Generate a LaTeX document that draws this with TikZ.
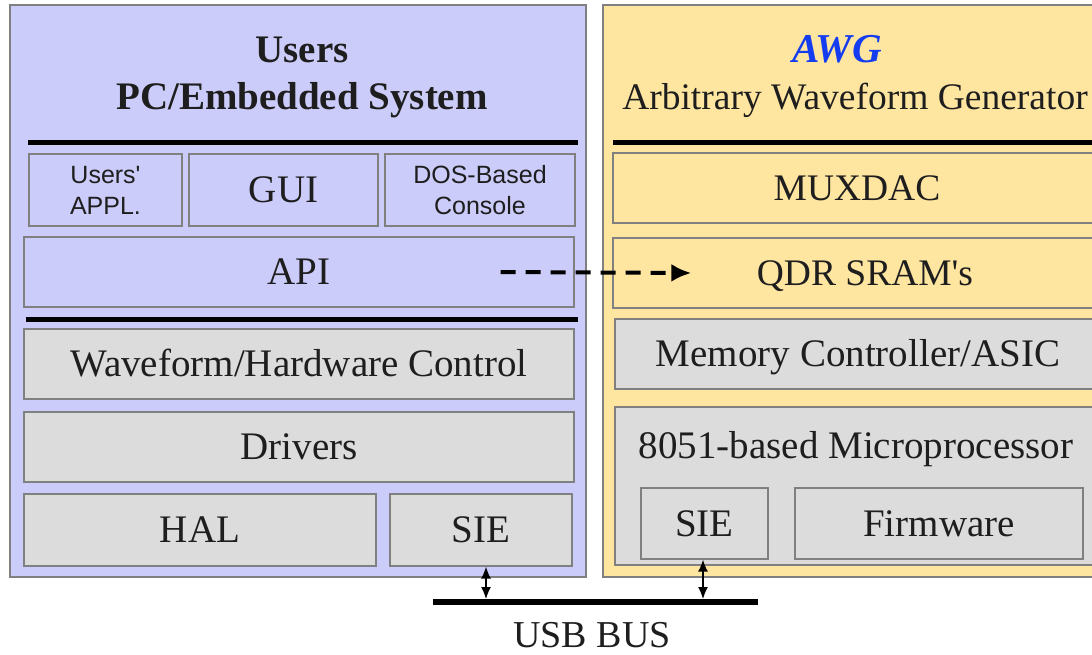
\documentclass[tikz,border=0pt]{standalone}
\usepackage{fontspec}
\setmainfont{Liberation Serif}
\setsansfont{Liberation Sans}
\usetikzlibrary{arrows.meta}
\definecolor{lav}{RGB}{204,204,250}
\definecolor{sand}{RGB}{254,229,160}
\definecolor{boxgray}{RGB}{220,220,220}
\definecolor{edge}{RGB}{128,128,128}
\definecolor{ink}{RGB}{30,30,30}
\definecolor{awgblue}{RGB}{20,60,240}
\begin{document}
\begin{tikzpicture}[x=1pt,y=-1pt,
  panel/.style={draw=edge, line width=1.6pt, inner sep=0pt, anchor=center},
  box/.style={draw=edge, line width=1.3pt, inner sep=0pt, anchor=center, text=ink,
              font=\fontsize{39}{45}\selectfont, text height=25.8pt, text depth=0pt},
  rbox/.style={box, font=\fontsize{37.5}{43}\selectfont, text height=24.8pt},
  small/.style={draw=edge, line width=1.3pt, inner sep=0pt, anchor=center, text=ink,
              align=center, font=\sffamily\fontsize{25}{31}\selectfont},
  sep/.style={line width=5pt, black},
  title/.style={anchor=base, text=ink, inner sep=0pt},
  dasharrow/.style={line width=4pt, dash pattern=on 15pt off 10pt, -{Latex[length=20pt,width=18pt]}},
  usbarrow/.style={line width=1.4pt, {Latex[length=12pt,width=10pt]}-{Latex[length=12pt,width=10pt]}}
]
\useasboundingbox (0,0) rectangle (1092,655);
\clip (0,0) rectangle (1092,655);
\fill[white] (0,0) rectangle (1092,655);

% ---------- left panel ----------
\node[panel, fill=lav, minimum width=576pt, minimum height=572pt] (panelL) at (298,291) {};
\node[title, font=\bfseries\fontsize{39}{45}\selectfont] (usersT) at (302,63) {Users};
\node[title, font=\bfseries\fontsize{39}{45}\selectfont] (pcT) at (302,110) {PC/Embedded System};
\coordinate (l1a) at (28,143); \coordinate (l1b) at (578,143);
\draw[sep] (l1a) -- (l1b);
\node[small, fill=lav, minimum width=153pt, minimum height=72pt] (appl) at (105.5,190) {Users\textquotesingle\\APPL.};
\node[box, fill=lav, minimum width=189pt, minimum height=72pt] (gui) at (283.5,190) {GUI};
\node[small, fill=lav, minimum width=190pt, minimum height=72pt] (dos) at (480,190) {DOS-Based\\Console};
\node[box, fill=lav, minimum width=550pt, minimum height=70pt] (api) at (299,272) {API};
\coordinate (l2a) at (26,319); \coordinate (l2b) at (578,319);
\draw[sep] (l2a) -- (l2b);
\node[box, fill=boxgray, minimum width=550pt, minimum height=70pt] (wave) at (299,364) {Waveform/Hardware Control};
\node[box, fill=boxgray, minimum width=550pt, minimum height=70pt] (drv) at (299,447) {Drivers};
\node[box, fill=boxgray, minimum width=352pt, minimum height=72pt] (hal) at (200,530) {HAL};
\node[box, fill=boxgray, minimum width=182pt, minimum height=72pt] (sieL) at (481,530) {SIE};

% ---------- right panel ----------
\node[panel, fill=sand, minimum width=507pt, minimum height=572pt] (panelR) at (856.5,291) {};
\node[title, font=\bfseries\itshape\fontsize{41}{47}\selectfont, text=awgblue] (awgT) at (837,63) {AWG};
\node[title, font=\fontsize{37.5}{43}\selectfont] (arbT) at (855,110) {Arbitrary Waveform Generator};
\coordinate (l3a) at (613,143); \coordinate (l3b) at (1110,143);
\draw[sep] (l3a) -- (l3b);
\node[rbox, fill=sand, minimum width=488pt, minimum height=70pt] (mux) at (857,188) {MUXDAC};
\node[rbox, fill=sand, minimum width=488pt, minimum height=70pt] (qdr) at (857,273) {\hspace*{16pt}QDR SRAM\textquotesingle s};
\node[box, fill=boxgray, minimum width=486pt, minimum height=70pt] (mem) at (858,354) {Memory Controller/ASIC};
\node[box, fill=boxgray, minimum width=486pt, minimum height=158pt] (mp) at (858,486) {};
\node[title, font=\fontsize{39}{45}\selectfont] (mpT) at (856,458) {8051-based Microprocessor};
\node[box, fill=boxgray, minimum width=127pt, minimum height=71pt] (sieR) at (704.5,523.5) {SIE};
\node[box, fill=boxgray, minimum width=288pt, minimum height=71pt] (fw) at (939,523.5) {Firmware};

% ---------- connectors ----------
\draw[dasharrow] ([xshift=-74pt]api.east) -- ([xshift=79pt]qdr.west);
\coordinate (busL) at (433,602); \coordinate (busR) at (758,602);
\draw[line width=6pt, black] (busL) -- (busR);
\coordinate (tapL) at (486,599); \coordinate (tapR) at (703,599);
\draw[usbarrow] (sieL.south -| tapL) -- (tapL);
\draw[usbarrow] (sieR.south -| tapR) -- (tapR);
\node[title, font=\fontsize{38}{44}\selectfont] (usb) at (592,647) {USB BUS};
\end{tikzpicture}
\end{document}
